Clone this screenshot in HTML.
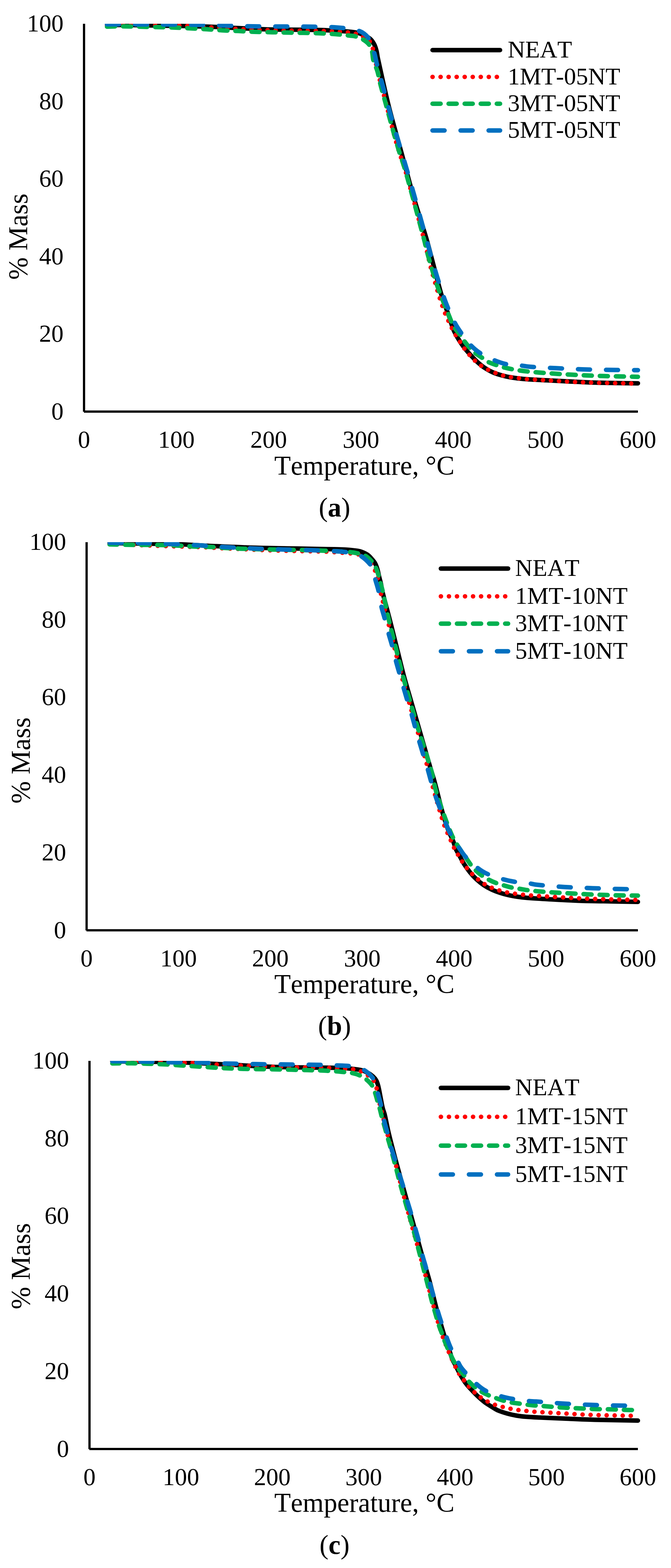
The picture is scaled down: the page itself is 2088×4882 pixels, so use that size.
<!DOCTYPE html>
<html><head><meta charset="utf-8"><title>TGA curves</title>
<style>
html,body{margin:0;padding:0;background:#fff;}
svg{display:block;}
text{font-family:'Liberation Serif', 'Times New Roman', serif;fill:#000;font-kerning:none;}
.tk{font-size:76px;}
.lg{font-size:75px;}
.at{font-size:84px;}
.cap{font-size:84px;}
</style></head>
<body>
<svg width="2088" height="4882" viewBox="0 0 2088 4882">
<rect width="2088" height="4882" fill="#fff"/>
<clipPath id="clipa"><rect x="258.0" y="74" width="1743.5" height="1207.5"/></clipPath>
<g clip-path="url(#clipa)" fill="none" stroke-width="14" stroke-linecap="round" stroke-linejoin="round">
<path d="M333 77.5C362 77.8 391 77.9 420 78.3C460 78.9 500 79.7 540 80.5C576 81.2 612 81.8 648 83C679.7 84.1 711.3 86 743 87.5C772 88.9 801 90.8 830 91.5C886.6 92.8 943.3 92.4 1000 93.6C1016.7 93.9 1033.3 95 1050 96C1063.3 96.8 1076.7 97.6 1090 98.9C1096.9 99.6 1103.9 100.3 1110.7 101.8C1117.3 103.3 1123.9 105.2 1130 108C1137.4 111.4 1145.1 115.2 1151.2 120.4C1156.6 125 1160.9 131.3 1164.3 137.6C1167.7 143.9 1169.7 151.1 1171.5 158C1173.4 165.2 1173.9 172.7 1175.5 180C1186.6 230.1 1197.1 280.3 1209.5 330C1222.1 380.3 1236.8 430 1250.5 480C1263.3 526.7 1275.5 573.5 1289 620C1300.7 660.2 1314.2 699.8 1326 740C1333.6 765.8 1340 792 1347 818C1355.5 850 1363.2 882.2 1372.5 914C1377.5 931.2 1384 948.1 1390 965C1392.8 973.1 1396.2 980.9 1399 989C1400.9 994.6 1402.1 1000.4 1404 1006C1406.7 1014.1 1409.1 1022.3 1412.7 1030C1417.3 1040 1422.8 1049.6 1428.6 1059C1434.1 1068 1440.3 1076.7 1446.7 1085C1452.4 1092.3 1458.6 1099.2 1464.9 1106C1471.5 1113.2 1478.1 1120.4 1485.3 1127C1492.5 1133.5 1499.9 1139.9 1508 1145.2C1516.6 1150.9 1525.8 1155.9 1535.2 1160C1543.9 1163.8 1553.2 1166.5 1562.4 1169C1571.3 1171.5 1580.4 1173.5 1589.6 1175C1603 1177.2 1616.5 1178.9 1630 1180C1653.3 1181.9 1676.7 1182.8 1700 1184C1743.3 1186.3 1786.7 1188.7 1830 1190.5C1853.3 1191.5 1876.7 1191.8 1900 1192.3C1928.3 1192.8 1956.7 1193.1 1985 1193.5" stroke="#000000"/>
<path d="M333 77.5C372 77.8 411 78.1 450 78.5C485.7 78.8 521.3 79 557 79.6C565.3 79.7 573.7 80.2 582 80.7C607.3 82.1 632.7 83.8 658 85.3C691 87.2 724 89.3 757 91C774 91.9 791 92.7 808 93.2C832.7 94 857.3 94.6 882 95C923.7 95.7 965.3 95.6 1007 96.5C1024 96.9 1041 98 1058 99C1066.2 99.5 1074.5 99.9 1082.6 100.9C1091.1 102 1099.8 103 1108 105.4C1115.5 107.6 1123 110.6 1129.8 114.5C1137.5 118.8 1146.1 123.4 1151.5 130C1156.4 136.1 1158.3 144.8 1160.6 152.6C1163.2 161.5 1164 170.9 1166 180C1171.4 204.2 1176.7 228.5 1182.7 252.6C1186.7 268.7 1191.6 284.6 1195.8 300.7C1205.7 338.4 1214.9 376.3 1225 414C1230 432.8 1235.2 451.5 1241 470C1247.6 491.1 1255.9 511.7 1262 533C1281.9 602.7 1300.6 672.8 1319 743" stroke="#FF0000" stroke-dasharray="0.1 24.9" stroke-dashoffset="0.00"/>
<path d="M1319 743C1326.6 772.1 1332.6 801.6 1340 830.7C1344.1 846.6 1348.9 862.3 1353.5 878C1358.3 894.4 1362.8 910.8 1368 927C1373.1 942.8 1378.2 958.6 1384.4 974C1390.7 989.6 1398 1004.8 1405.3 1020C1408.9 1027.5 1413 1034.8 1417.2 1042C1421.5 1049.3 1426.2 1056.4 1430.8 1063.5C1435.3 1070.5 1439.5 1077.7 1444.4 1084.4C1449.4 1091.3 1454.7 1098 1460.3 1104.4C1465.7 1110.7 1471.3 1116.9 1477.3 1122.5C1483.4 1128.2 1489.8 1133.7 1496.6 1138.4C1503.4 1143.1 1510.8 1147.1 1518.2 1150.9C1525.6 1154.7 1533.2 1158 1540.9 1161C1548.7 1164 1556.6 1166.8 1564.7 1169C1572.7 1171.2 1581 1172.8 1589.2 1174.2C1597.6 1175.6 1606.1 1176.5 1614.6 1177.6C1622.5 1178.6 1630.4 1179.8 1638.4 1180.4C1658.9 1181.9 1679.5 1182.8 1700 1184C1737.9 1186.2 1775.7 1189 1813.6 1190.4C1863.4 1192.3 1913.2 1192.9 1963 1194C1970.3 1194.2 1977.7 1194.2 1985 1194.3" stroke="#FF0000" stroke-dasharray="0.1 24.9" stroke-dashoffset="1457.69"/>
<path d="M333 83C348.7 82.7 364.3 81.9 380 82C403.3 82.1 426.7 82.9 450 83.5C482 84.3 514 84.8 546 86C578.3 87.3 610.7 89.1 643 91C659.3 91.9 675.7 93.5 692 94.4C708.7 95.3 725.3 95.8 742 96.6C758 97.4 774 98.5 790 99C826.7 100.1 863.3 100.7 900 101.5C930.7 102.2 961.3 102.5 992 103.5C1009 104.1 1026 105 1043 106.3C1059.4 107.6 1075.7 109.5 1092 111.2C1096 111.6 1100.2 111.6 1104 112.7C1111.8 115 1120 117.4 1127 121.4C1134.5 125.7 1142.4 131 1147.7 137.7C1152.5 143.7 1155.3 151.9 1157.5 159.5C1160.1 168.6 1159.4 178.6 1161.9 187.8C1165.1 199.4 1171.1 210.2 1174.5 221.7C1178.3 234.8 1180.3 248.4 1183.6 261.7C1187.4 276.9 1191.9 291.9 1196 307C1205.8 342.7 1215.3 378.4 1225.3 414C1230.5 432.7 1235.9 451.4 1241.6 470C1248 491 1255.8 511.5 1261.8 532.6C1281.6 602.5 1300.2 672.8 1319 743C1323.9 761.3 1327.5 779.8 1332.7 798C1341.7 829.7 1350.8 861.4 1361.7 892.5C1372.6 923.7 1385.5 954.3 1398 985C1402.5 996.2 1406.6 1007.7 1412.7 1018C1418.3 1027.4 1426.5 1035.1 1433 1044C1436.7 1049.1 1439.5 1054.9 1443.3 1060C1449 1067.8 1455.1 1075.5 1461.5 1082.8C1466.1 1088 1470.8 1093.2 1476.2 1097.5C1484 1103.8 1492.9 1108.8 1501.2 1114.6C1506.5 1118.3 1511.2 1123.1 1517 1126C1526.3 1130.7 1536.6 1133.7 1546.5 1137.2C1552.5 1139.3 1558.5 1141.4 1564.7 1143C1574.4 1145.5 1584.2 1147.7 1594 1149.7C1600.5 1151 1607 1152 1613.5 1153C1622.1 1154.3 1630.8 1155.5 1639.5 1156.4C1652.3 1157.8 1665.2 1159 1678 1160C1694.7 1161.3 1711.3 1162.4 1728 1163.5C1744.7 1164.6 1761.3 1165.7 1778 1166.6C1794.3 1167.5 1810.7 1168.3 1827 1169C1844 1169.7 1861 1170.3 1878 1170.8C1894.7 1171.3 1911.3 1171.6 1928 1172C1947 1172.4 1966 1172.8 1985 1173.2" stroke="#00B050" stroke-dasharray="25 25"/>
<path d="M333 75.5C422 76 511 76 600 77C633.3 77.4 666.7 78.6 700 79.5C723.3 80.2 746.7 81.4 770 81.8C805.3 82.4 840.7 82.3 876 82.5C905 82.7 934 82.5 963 83C992 83.6 1021.1 83.3 1050 85.8C1072.5 87.7 1096.5 88.9 1117.2 96.3C1129.5 100.7 1141.5 110.7 1148.8 121.4C1157.4 134 1160.5 150.9 1165.1 166C1168.5 177 1169.9 188.6 1172.8 199.8C1178.5 221.9 1184.8 243.9 1190.8 266C1198.7 295.3 1206.2 324.8 1214.4 354C1222.3 382 1230.8 409.8 1239 437.7C1247.3 465.7 1255.8 493.7 1264 521.7C1272.1 549.4 1280.1 577.2 1288 605C1296 633.5 1303.8 662 1311.7 690.5" stroke="#0070C0" stroke-dasharray="37.2 50.1" stroke-dashoffset="0.00"/>
<path d="M1311.7 690.5C1317.7 712.3 1323.7 734.1 1329.8 755.8C1339.4 789.9 1348.6 824.1 1359 858C1367.6 886 1376.5 914.1 1387 941.5C1395.2 962.9 1404.7 984 1415 1004.5C1420.4 1015.2 1427.1 1025.2 1434 1035C1443.7 1048.7 1453.4 1062.8 1464.9 1074.9C1474.3 1084.8 1485.1 1093.7 1496.6 1101C1509.3 1109.2 1523.5 1115.6 1537.5 1121.4C1549.9 1126.5 1562.9 1131.2 1576 1133.8C1591.2 1136.8 1607 1136.7 1622.5 1138.4C1631 1139.3 1639.5 1141.2 1648 1141.8C1675.3 1143.8 1702.7 1144.9 1730 1146.3C1757.2 1147.7 1784.3 1149.1 1811.5 1150C1842.3 1151 1873.2 1151.4 1904 1151.8C1931 1152.2 1958 1152.3 1985 1152.5" stroke="#0070C0" stroke-dasharray="37.2 50.1" stroke-dashoffset="1414.21"/>
</g>
<rect x="258.0" y="74" width="7" height="1207.8" fill="#000"/>
<rect x="261.0" y="1278.0" width="1724.0" height="7" fill="#000"/>
<text x="197.8" y="1305.5" class="tk" text-anchor="end">0</text>
<text x="197.8" y="1064" class="tk" text-anchor="end">20</text>
<text x="197.8" y="822.5" class="tk" text-anchor="end">40</text>
<text x="197.8" y="581" class="tk" text-anchor="end">60</text>
<text x="197.8" y="339.5" class="tk" text-anchor="end">80</text>
<text x="197.8" y="98" class="tk" text-anchor="end">100</text>
<text x="261.5" y="1394" class="tk" text-anchor="middle">0</text>
<text x="548.8" y="1394" class="tk" text-anchor="middle">100</text>
<text x="836" y="1394" class="tk" text-anchor="middle">200</text>
<text x="1123.2" y="1394" class="tk" text-anchor="middle">300</text>
<text x="1410.5" y="1394" class="tk" text-anchor="middle">400</text>
<text x="1697.8" y="1394" class="tk" text-anchor="middle">500</text>
<text x="1985" y="1394" class="tk" text-anchor="middle">600</text>
<text class="at" transform="translate(84.9 871) rotate(-90)" x="0" y="0">% Mass</text>
<text class="at" x="853.5" y="1478">Temperature, °C</text>
<line x1="1346" y1="155.9" x2="1556" y2="155.9" stroke="#000000" stroke-width="14" stroke-linecap="round"/>
<text class="lg" x="1580" y="178.9">NEAT</text>
<line x1="1346" y1="239.5" x2="1556" y2="239.5" stroke="#FF0000" stroke-width="14" stroke-linecap="round" stroke-dasharray="0.1 24.9"/>
<text class="lg" x="1580" y="262.5">1MT-05NT</text>
<line x1="1346" y1="322.9" x2="1556" y2="322.9" stroke="#00B050" stroke-width="14" stroke-linecap="round" stroke-dasharray="25 25"/>
<text class="lg" x="1580" y="345.9">3MT-05NT</text>
<line x1="1346" y1="406.3" x2="1556" y2="406.3" stroke="#0070C0" stroke-width="14" stroke-linecap="round" stroke-dasharray="37.2 50.1"/>
<text class="lg" x="1580" y="429.3">5MT-05NT</text>
<text class="cap" x="1041" y="1608" text-anchor="middle">(<tspan font-weight="bold">a</tspan>)</text>
<clipPath id="clipb"><rect x="266.0" y="1688" width="1735.5" height="1208.5"/></clipPath>
<g clip-path="url(#clipb)" fill="none" stroke-width="14" stroke-linecap="round" stroke-linejoin="round">
<path d="M341 1691C377.3 1691.5 413.7 1691.9 450 1692.5C486.7 1693.1 523.4 1693.4 560 1694.7C597.7 1696.1 635.3 1698.9 673 1700.6C715.3 1702.5 757.7 1704.4 800 1705.6C840 1706.8 880 1707.1 920 1707.8C960 1708.6 1000 1709.2 1040 1710.1C1052.1 1710.4 1064.2 1710.4 1076.3 1711.2C1088.4 1712 1100.6 1713.1 1112.6 1715C1117.8 1715.8 1123.1 1717.3 1128 1719.3C1133.7 1721.6 1139.5 1724.4 1144.5 1728C1149.4 1731.6 1153.5 1736.4 1157.5 1741C1161 1744.9 1164.6 1748.9 1167 1753.5C1170.3 1759.6 1172.6 1766.3 1174.6 1773C1176.9 1780.7 1178.1 1788.7 1180 1796.5C1181.7 1803.7 1183.9 1810.8 1185.5 1818C1187.1 1825.3 1187.7 1832.8 1189.5 1840C1196.9 1870.1 1205.3 1900 1213 1930C1221.5 1963.3 1229.7 1996.7 1238 2030C1243.8 2053.3 1249.3 2076.8 1255.5 2100C1262.3 2125.5 1269.9 2150.8 1277.2 2176.2C1286.2 2207.7 1295.4 2239.1 1304.5 2270.6C1316 2310.4 1327.4 2350.2 1339 2390C1343 2403.6 1347.7 2417.1 1351.4 2430.8C1360.3 2463.4 1367.6 2496.3 1376.8 2528.8C1382.2 2547.7 1388.2 2566.6 1395 2585C1399.1 2596 1405.1 2606.3 1409.5 2617.2C1413.1 2626.1 1415.2 2635.7 1419 2644.5C1421.7 2650.8 1425.8 2656.6 1429.1 2662.6C1434.3 2672.1 1439 2681.9 1444.7 2691C1450.3 2699.8 1456.4 2708.4 1463 2716.5C1469 2723.9 1475.6 2731.1 1482.6 2737.6C1489.6 2744.1 1497.1 2750.2 1505 2755.6C1512.9 2760.9 1521.4 2765.6 1530 2769.7C1538.2 2773.6 1546.9 2776.7 1555.5 2779.6C1563.9 2782.4 1572.5 2784.7 1581.1 2786.7C1590.6 2788.9 1600.3 2790.6 1610 2792C1620 2793.5 1630 2794.7 1640 2795.5C1666.6 2797.6 1693.3 2799 1720 2800.5C1746.7 2802 1773.3 2803.5 1800 2804.4C1833.3 2805.5 1866.7 2805.9 1900 2806.5C1928.3 2807.1 1956.7 2807.5 1985 2808" stroke="#000000"/>
<path d="M341 1693C377.3 1694.7 413.7 1696.5 450 1698C480 1699.2 510 1700 540 1701C555.7 1701.5 571.3 1702 587 1702.5C604 1703 621 1703.3 638 1704C654.7 1704.7 671.3 1706.1 688 1706.9C704.7 1707.7 721.3 1708.3 738 1709C754.7 1709.8 771.3 1710.7 788 1711.4C813 1712.4 838 1713.4 863 1714.2C879.7 1714.7 896.3 1715.1 913 1715.5C946.3 1716.3 979.7 1716.4 1013 1717.6C1029.6 1718.2 1046.1 1719.8 1062.7 1720.9C1070.9 1721.5 1079 1722 1087.2 1722.7C1095.7 1723.5 1104.4 1723.3 1112.6 1725.4C1120.4 1727.4 1128.4 1730.5 1135 1735C1141.5 1739.4 1147 1745.8 1152 1752C1157.1 1758.3 1161.5 1765.4 1165.2 1772.6C1168.9 1779.8 1172.1 1787.5 1174.3 1795.3C1177.4 1806.6 1178.3 1818.5 1181 1830C1188.9 1863.4 1197.7 1896.7 1206 1930C1214.3 1963.3 1222.7 1996.7 1231 2030C1236.8 2053.3 1242.3 2076.8 1248.5 2100C1255.3 2125.4 1262.7 2150.7 1270 2176C1279 2207.4 1288.6 2238.6 1297.5 2270" stroke="#FF0000" stroke-dasharray="0.1 24.9" stroke-dashoffset="0.00"/>
<path d="M1297.5 2270C1308.9 2309.9 1320 2349.9 1331 2390C1336.2 2408.9 1340.7 2428.1 1346 2447C1353.1 2472.5 1360.4 2498 1368 2523.4C1372.6 2538.9 1376.9 2554.6 1382.6 2569.7C1388.5 2585.5 1396 2600.8 1402.7 2616.3C1406 2623.9 1409 2631.6 1412.7 2639C1416.4 2646.5 1420.8 2653.6 1425 2660.8C1429.3 2668.1 1433.4 2675.5 1438.1 2682.6C1442.6 2689.4 1447.3 2696.1 1452.4 2702.4C1457.7 2708.9 1463.3 2715.2 1469.2 2721.2C1475 2727.1 1480.9 2732.8 1487.3 2738C1493.8 2743.3 1500.6 2748.4 1507.8 2752.8C1514.8 2757.1 1522.3 2760.7 1529.8 2763.9C1537.5 2767.2 1545.6 2769.8 1553.6 2772.3C1561.5 2774.7 1569.5 2776.9 1577.6 2778.6C1585.7 2780.3 1593.9 2781.3 1602.1 2782.5C1610.3 2783.7 1618.6 2784.7 1626.9 2785.6C1635.2 2786.5 1643.5 2787.4 1651.8 2788C1681.2 2790.1 1710.6 2791.8 1740 2793.5C1768.7 2795.1 1797.3 2796.8 1826 2798C1850.7 2799 1875.3 2799.6 1900 2800.2C1928.3 2800.9 1956.7 2801.4 1985 2802" stroke="#FF0000" stroke-dasharray="0.1 24.9" stroke-dashoffset="1362.67"/>
<path d="M341 1695C361 1695.4 381 1696 401 1696.3C434.3 1696.7 467.7 1696.4 501 1697C522.3 1697.4 543.7 1698.3 565 1699.3C577 1699.8 589 1701 601 1701.5C617.7 1702.2 634.3 1701.9 651 1702.7C667.3 1703.4 683.7 1705.1 700 1706C716.7 1707 733.3 1707.9 750 1708.4C791.7 1709.7 833.3 1710.6 875 1711.5C908.3 1712.2 941.7 1712.5 975 1713.4C996.7 1714 1018.3 1714.9 1040 1716C1056.3 1716.8 1072.7 1717.5 1089 1719C1096.9 1719.7 1104.9 1720.9 1112.6 1722.7C1120.6 1724.6 1129.2 1726.1 1136.2 1730C1143.7 1734.2 1150.4 1740.7 1156.2 1747.2C1161.3 1752.8 1165.6 1759.4 1168.9 1766.2C1172.8 1774.2 1175.4 1783 1178 1791.6C1180.2 1798.7 1181.5 1806.2 1183.4 1813.4C1185.7 1822.3 1188.6 1831 1190.6 1840C1197.4 1869.9 1203 1900.1 1210 1930C1217.8 1963.5 1226.7 1996.7 1235 2030C1240.8 2053.3 1246.3 2076.8 1252.5 2100C1259.3 2125.4 1266.7 2150.7 1274 2176C1283 2207.4 1292 2238.8 1301.5 2270" stroke="#00B050" stroke-dasharray="25 25" stroke-dashoffset="1.50"/>
<path d="M1301.5 2270C1314.6 2312.8 1329.5 2355 1341.8 2398C1347.6 2418.4 1350.5 2439.5 1356 2460C1360.6 2476.9 1366.4 2493.4 1372 2510C1377.1 2525.1 1382.4 2540.1 1388 2555C1393.7 2570.1 1399.4 2585.3 1406 2600C1410.3 2609.7 1415.3 2619.1 1420.9 2628.1C1429.7 2642.3 1439.8 2655.7 1449.3 2669.5C1454.3 2676.9 1459 2684.5 1464.4 2691.6C1469.4 2698.1 1474.6 2704.6 1480.5 2710.3C1486.4 2716.1 1493 2721.4 1499.8 2726.2C1507 2731.3 1514.7 2735.7 1522.5 2739.8C1529.1 2743.3 1535.9 2746.3 1542.9 2748.9C1551.1 2752 1559.5 2754.3 1567.9 2756.8C1576.2 2759.2 1584.4 2761.8 1592.8 2763.6C1601 2765.4 1609.5 2766.1 1617.8 2767.5C1625.7 2768.8 1633.6 2770.6 1641.6 2771.6C1653.7 2773.2 1665.8 2774.4 1678 2775.4C1694.6 2776.8 1711.3 2777.9 1728 2779C1744.7 2780 1761.3 2780.8 1778 2781.7C1794.7 2782.6 1811.3 2783.6 1828 2784.4C1844.7 2785.2 1861.3 2785.7 1878 2786.3C1894.7 2786.8 1911.3 2787.3 1928 2787.7C1947 2788.1 1966 2788.3 1985 2788.6" stroke="#00B050" stroke-dasharray="25 25" stroke-dashoffset="1369.91"/>
<path d="M341.5 1690C376.7 1690.2 411.8 1690.1 447 1690.7C476 1691.2 505 1692.2 534 1693.4C563.3 1694.6 592.7 1696.3 622 1698C651 1699.7 680 1702.2 709 1703.8C742.6 1705.7 776.3 1707.2 810 1708.6C835 1709.6 860 1710.2 885 1710.9C913.7 1711.7 942.3 1712.1 971 1713.1C995.8 1713.9 1020.6 1714.9 1045.4 1716.3C1055.7 1716.9 1066.1 1717.6 1076.3 1719C1084.3 1720 1092.3 1721.4 1100 1723.5C1108.6 1725.9 1118 1727.8 1125.3 1732.6C1135.5 1739.3 1144.8 1748.5 1152.5 1758C1157.1 1763.6 1159.7 1771 1162 1778C1164.8 1786.5 1165.8 1795.6 1168 1804.3C1171.1 1816.3 1175.3 1828 1178 1840C1181.7 1856.5 1183.5 1873.5 1187.2 1890C1189.9 1902.2 1194 1914.1 1197.2 1926.2C1201.6 1942.5 1205.6 1958.9 1210 1975.2C1213.2 1986.7 1216.9 1998.1 1220 2009.7C1224.4 2026.3 1228.2 2043 1232.6 2059.6C1235.7 2071.5 1239.2 2083.2 1242.6 2095C1247.1 2110.9 1251.7 2126.7 1256.3 2142.6C1259.9 2155 1263.5 2167.5 1267.2 2179.9C1271.9 2195.6 1277.1 2211.2 1281.7 2227C1285.2 2239 1288.3 2251.2 1291.7 2263.3C1296.2 2279.1 1300.7 2294.8 1305.3 2310.5" stroke="#0070C0" stroke-dasharray="37.2 50.1" stroke-dashoffset="0.00"/>
<path d="M1305.3 2310.5C1308.9 2322.6 1312.5 2334.7 1316.2 2346.8C1321.1 2362.7 1326.2 2378.5 1330.9 2394.5C1334.4 2406.5 1337.4 2418.7 1340.9 2430.8C1345.6 2446.9 1350.2 2463 1355.4 2478.9C1359.3 2490.8 1363.7 2502.6 1368.1 2514.3C1374 2530.1 1379.8 2545.9 1386.2 2561.5C1390.7 2572.5 1395.1 2583.7 1400.7 2594.2C1408.4 2608.6 1417.3 2622.6 1426.3 2636.3C1433.4 2647.2 1440.3 2658.4 1449 2668C1460.3 2680.5 1472.9 2692.1 1486.2 2702.4C1495.9 2710 1506.7 2716.7 1518 2721.7C1533.2 2728.4 1549.5 2733 1565.6 2737.6C1577.5 2741 1589.7 2743.6 1601.9 2745.5C1617.8 2748 1634 2748.9 1650 2751C1656.4 2751.9 1662.6 2753.9 1669 2754.5C1697.9 2757.4 1727 2759.9 1756 2761.7C1785.2 2763.5 1814.4 2764.3 1843.6 2765.4C1872.9 2766.5 1902.3 2767.4 1931.6 2768.1C1949.4 2768.6 1967.2 2768.7 1985 2769" stroke="#0070C0" stroke-dasharray="37.2 50.1" stroke-dashoffset="1394.16"/>
</g>
<rect x="266.0" y="1688" width="7" height="1208.8" fill="#000"/>
<rect x="269.0" y="2893.0" width="1716.0" height="7" fill="#000"/>
<text x="205.8" y="2920.5" class="tk" text-anchor="end">0</text>
<text x="205.8" y="2678.8" class="tk" text-anchor="end">20</text>
<text x="205.8" y="2437.1" class="tk" text-anchor="end">40</text>
<text x="205.8" y="2195.4" class="tk" text-anchor="end">60</text>
<text x="205.8" y="1953.7" class="tk" text-anchor="end">80</text>
<text x="205.8" y="1712" class="tk" text-anchor="end">100</text>
<text x="269.5" y="3009" class="tk" text-anchor="middle">0</text>
<text x="555.4" y="3009" class="tk" text-anchor="middle">100</text>
<text x="841.3" y="3009" class="tk" text-anchor="middle">200</text>
<text x="1127.2" y="3009" class="tk" text-anchor="middle">300</text>
<text x="1413.2" y="3009" class="tk" text-anchor="middle">400</text>
<text x="1699.1" y="3009" class="tk" text-anchor="middle">500</text>
<text x="1985" y="3009" class="tk" text-anchor="middle">600</text>
<text class="at" transform="translate(92.8 2502) rotate(-90)" x="0" y="0">% Mass</text>
<text class="at" x="853.5" y="3092">Temperature, °C</text>
<line x1="1372" y1="1770.3" x2="1581" y2="1770.3" stroke="#000000" stroke-width="14" stroke-linecap="round"/>
<text class="lg" x="1603" y="1793.3">NEAT</text>
<line x1="1372" y1="1856.8" x2="1581" y2="1856.8" stroke="#FF0000" stroke-width="14" stroke-linecap="round" stroke-dasharray="0.1 24.9"/>
<text class="lg" x="1603" y="1879.8">1MT-10NT</text>
<line x1="1372" y1="1941.8" x2="1581" y2="1941.8" stroke="#00B050" stroke-width="14" stroke-linecap="round" stroke-dasharray="25 25"/>
<text class="lg" x="1603" y="1964.8">3MT-10NT</text>
<line x1="1372" y1="2027.8" x2="1581" y2="2027.8" stroke="#0070C0" stroke-width="14" stroke-linecap="round" stroke-dasharray="37.2 50.1"/>
<text class="lg" x="1603" y="2050.8">5MT-10NT</text>
<text class="cap" x="1041" y="3222.3" text-anchor="middle">(<tspan font-weight="bold">b</tspan>)</text>
<clipPath id="clipc"><rect x="275.0" y="3303" width="1726.5" height="1208.5"/></clipPath>
<g clip-path="url(#clipc)" fill="none" stroke-width="14" stroke-linecap="round" stroke-linejoin="round">
<path d="M349.6 3304.5C394.7 3305 439.9 3305.2 485 3306C517.7 3306.5 550.3 3307.2 583 3308.4C622 3309.9 661 3312 700 3314C743.3 3316.2 786.6 3319.3 830 3321C866.6 3322.5 903.3 3322.9 940 3323.5C975 3324.1 1010 3323.9 1045 3324.8C1060.3 3325.2 1075.6 3325.8 1090.8 3327.2C1102.6 3328.3 1114.6 3329.6 1126 3332.4C1132.6 3334 1139 3337.2 1145 3340.5C1150.7 3343.7 1156.2 3347.6 1161 3352C1164.9 3355.6 1168.4 3359.9 1171 3364.5C1173.5 3368.9 1174.9 3374.1 1176.4 3379C1177.9 3384.2 1178.9 3389.6 1180 3395C1181.6 3402.8 1183 3410.7 1184.5 3418.5C1186.6 3429 1188.3 3439.6 1190.8 3450C1192.5 3457 1195.5 3463.7 1197.2 3470.7C1201.9 3490.3 1205.2 3510.4 1210 3530C1218.1 3563.5 1227.1 3596.7 1236 3630C1243.2 3656.7 1250.8 3683.3 1258.2 3710C1269 3748.7 1279.8 3787.3 1290.5 3826C1298.4 3854.5 1306.1 3883 1314.2 3911.5C1321.6 3937.7 1329.9 3963.7 1337 3990C1344.2 4016.5 1349.9 4043.4 1357 4069.9C1364.7 4098.5 1372.8 4126.9 1381.5 4155.2C1387 4173 1393.5 4190.4 1399.5 4208C1402.3 4216.3 1404.6 4224.9 1408 4233C1410.5 4238.9 1414.1 4244.3 1417 4250C1420.1 4256 1422.9 4262.1 1426 4268C1429.5 4274.7 1433 4281.5 1437 4288C1441.4 4295.2 1445.8 4302.4 1451 4309C1456.7 4316.4 1463.3 4323.2 1469.7 4330C1475.9 4336.6 1482.2 4343.1 1488.8 4349.2C1495.4 4355.3 1502.2 4361.3 1509.4 4366.7C1516.5 4371.9 1524.1 4376.4 1531.6 4381C1537.3 4384.5 1542.9 4388.5 1549 4391.1C1558.4 4395.1 1568.3 4398.2 1578.1 4401C1587.6 4403.7 1597.4 4405.8 1607.1 4407.5C1616.7 4409.2 1626.5 4410.3 1636.2 4411.1C1650.7 4412.3 1665.2 4412.9 1679.7 4413.6C1703.1 4414.7 1726.6 4415.6 1750 4416.5C1783.3 4417.9 1816.7 4419.6 1850 4420.5C1895 4421.7 1940 4422.2 1985 4423" stroke="#000000"/>
<path d="M349.6 3305C370.1 3305 390.5 3304.9 411 3305C440.7 3305.2 470.3 3305.3 500 3306C524.5 3306.5 549.1 3307.9 573.6 3308.6C581.9 3308.9 590.3 3308.5 598.6 3309C623.5 3310.4 648.4 3312.8 673.4 3314.3C698.3 3315.7 723.3 3316.6 748.3 3317.7C756.6 3318.1 764.9 3318.5 773.2 3318.8C798.8 3319.8 824.4 3320.8 850 3321.5C880 3322.3 910 3322.9 940 3323.5C968.2 3324.1 996.4 3324.3 1024.6 3325C1032.7 3325.2 1040.9 3325.9 1049 3326.3C1057.5 3326.7 1066 3326.7 1074.5 3327.2C1082.3 3327.6 1090.3 3327.7 1098 3329C1106.3 3330.4 1114.8 3332.3 1122.6 3335.4C1129.9 3338.3 1137.1 3342.5 1143.4 3347.2C1150.4 3352.4 1157.5 3358.3 1162.5 3365.3C1166.9 3371.6 1169.6 3379.5 1171.6 3387.1C1175.4 3401.1 1176.6 3415.8 1180 3430C1188.2 3464.6 1197.2 3499 1206.3 3533.4C1214.8 3565.5 1224.1 3597.5 1232.6 3629.6C1241 3661.3 1248.6 3693.3 1257 3725C1265.6 3757.9 1274.6 3790.6 1283.6 3823.4C1288 3839.5 1292.8 3855.4 1297.2 3871.5" stroke="#FF0000" stroke-dasharray="0.1 24.9" stroke-dashoffset="0.00"/>
<path d="M1297.2 3871.5C1306.1 3903.8 1314.9 3936.2 1323.5 3968.6C1332.1 4001.1 1340.3 4033.7 1349 4066.2C1353.4 4082.6 1357.7 4099 1362.6 4115.2C1367.4 4131 1372.4 4146.8 1378 4162.4C1383.6 4178 1389.8 4193.4 1396.2 4208.7C1402.7 4224.1 1409.6 4239.4 1416.8 4254.5C1420.3 4261.8 1423.8 4269.2 1428.1 4276.1C1432.5 4283.2 1437.8 4289.8 1442.9 4296.5C1448.1 4303.4 1453.2 4310.4 1458.8 4316.9C1464.1 4323 1469.8 4328.9 1475.8 4334.4C1481.9 4340.1 1488.3 4345.7 1495.1 4350.5C1501.9 4355.3 1509.2 4359.6 1516.6 4363.4C1524.1 4367.3 1531.9 4370.7 1539.8 4373.6C1547.6 4376.4 1555.8 4378.3 1563.8 4380.4C1571.9 4382.5 1580.1 4384.4 1588.3 4386.1C1596.3 4387.7 1604.5 4389.1 1612.6 4390.2C1620.8 4391.3 1629.1 4392 1637.3 4392.9C1645.8 4393.8 1654.2 4394.8 1662.7 4395.4C1691.8 4397.4 1720.9 4398.9 1750 4400.5C1779 4402.1 1808 4404.2 1837 4405.2C1878.8 4406.7 1920.6 4407.1 1962.4 4408C1969.9 4408.2 1977.5 4408.3 1985 4408.5" stroke="#FF0000" stroke-dasharray="0.1 24.9" stroke-dashoffset="1347.23"/>
<path d="M349.6 3311C369.4 3310.8 389.2 3310.3 409 3310.5C425.7 3310.7 442.3 3311.5 459 3312C475.7 3312.5 492.3 3312.9 509 3313.7C526 3314.5 543 3315.9 560 3317C576 3318 592 3319 608 3320C624.7 3321.1 641.3 3322.3 658 3323.4C674.7 3324.4 691.3 3325.5 708 3326.3C724.7 3327 741.3 3327.5 758 3327.9C772 3328.3 786 3328.5 800 3328.7C819.3 3329 838.7 3329.2 858 3329.5C874.7 3329.8 891.3 3330.2 908 3330.6C924.7 3331 941.3 3331.4 958 3331.8C974.7 3332.3 991.3 3332.6 1008 3333.3C1020.3 3333.8 1032.7 3334.7 1045 3335.5C1049.8 3335.8 1054.7 3336.2 1059.5 3336.7C1071.5 3338 1083.6 3338.5 1095.4 3340.8C1103.5 3342.3 1111.5 3344.7 1119 3348.1C1126.3 3351.4 1133.6 3355.7 1139.8 3360.8C1146.6 3366.3 1153.2 3372.7 1158 3379.9C1162.3 3386.3 1164.4 3394.2 1167 3401.6C1169.9 3409.9 1171.8 3418.6 1174.3 3427C1176.7 3435.3 1179.5 3443.5 1181.8 3451.8C1183.8 3459 1185.2 3466.4 1187.2 3473.6C1194 3498.4 1201.1 3523.2 1208.1 3548C1210.2 3555.2 1212.4 3562.4 1214.4 3569.7C1221.2 3594.5 1227.8 3619.3 1234.4 3644.2C1236.3 3651.4 1238 3658.8 1239.9 3666C1243.8 3680.7 1247.8 3695.4 1252 3710C1259.4 3736 1266.9 3762 1274.5 3788C1276.8 3795.9 1279.5 3803.7 1281.7 3811.6C1290.7 3844.8 1299.3 3878.2 1308 3911.5" stroke="#00B050" stroke-dasharray="25 25" stroke-dashoffset="3.00"/>
<path d="M1308 3911.5C1318.4 3951.5 1328.7 3991.6 1339 4031.7C1340.9 4039 1342.5 4046.3 1344.5 4053.5C1346.8 4062 1349.4 4070.4 1351.8 4078.9C1353.9 4086.2 1356 4093.4 1358.1 4100.7C1360.8 4109.8 1363.3 4118.9 1366.3 4127.9C1368.7 4135.3 1371.7 4142.4 1374.4 4149.7C1377.5 4158.1 1380.3 4166.7 1383.5 4175.1C1386.3 4182.4 1389.4 4189.7 1392.6 4196.9C1396.1 4204.8 1399.7 4212.7 1403.5 4220.5C1407 4227.8 1410.4 4235.3 1414.4 4242.3C1418.6 4249.6 1423.1 4256.9 1428.1 4263.6C1432.9 4270 1438.9 4275.6 1444 4281.8C1449.5 4288.5 1454.1 4295.8 1459.9 4302.2C1465.5 4308.3 1471.6 4314.1 1478 4319.2C1484.8 4324.6 1492.1 4329.5 1499.6 4333.9C1506.1 4337.8 1513 4341.1 1520 4344.1C1527.8 4347.5 1535.8 4350.3 1543.8 4353.2C1551.7 4356 1559.6 4358.9 1567.7 4361.2C1575.9 4363.5 1584.2 4365.3 1592.6 4366.8C1600.5 4368.3 1608.5 4369.1 1616.4 4370.2C1624.7 4371.4 1633.1 4372.6 1641.4 4373.6C1647.3 4374.3 1653.1 4374.9 1659 4375.4C1674.1 4376.7 1689.3 4377.9 1704.4 4379C1721.1 4380.3 1737.7 4381.6 1754.4 4382.6C1771 4383.6 1787.7 4384.2 1804.3 4385C1820.7 4385.8 1837.2 4386.7 1853.6 4387.2C1870.2 4387.7 1886.9 4387.6 1903.5 4388.1C1920.1 4388.6 1936.8 4389.5 1953.4 4390C1963.9 4390.3 1974.5 4390.3 1985 4390.5" stroke="#00B050" stroke-dasharray="25 25" stroke-dashoffset="1376.55"/>
<path d="M349.6 3304C382.1 3304.3 414.5 3304.4 447 3305C476 3305.6 505 3306.9 534 3307.5C557.3 3307.9 580.7 3307.6 604 3308C620.7 3308.3 637.3 3308.9 654 3309.5C667 3309.9 680 3310.6 693 3311C709 3311.5 725 3311.7 741 3312C753.7 3312.3 766.3 3312.4 779 3312.7C791 3313 803 3313.4 815 3313.6C840.7 3314 866.3 3314 892 3314.3C921 3314.6 950 3314.7 979 3315.2C1002.1 3315.6 1025.1 3316.4 1048.2 3317.2C1060.6 3317.6 1073.1 3317.6 1085.4 3319C1093.7 3319.9 1102 3321.8 1110 3324C1118.3 3326.3 1127.3 3328.1 1134.4 3332.7C1143.9 3338.9 1153 3347.3 1159.8 3356.3C1164.4 3362.4 1166 3370.6 1168.5 3378C1171.5 3386.9 1173.6 3396.2 1176.1 3405.3C1179.2 3416.7 1182.6 3428.1 1185.2 3439.7C1189 3456.3 1191.5 3473.3 1195.4 3489.9C1198.3 3502.1 1202.2 3514.1 1205.4 3526.2C1209.7 3542.5 1213.4 3559 1218 3575.2C1221.3 3586.8 1225.5 3598.2 1229 3609.7C1234 3626 1238.5 3642.4 1243.5 3658.7C1247 3670.2 1251 3681.6 1254.4 3693.2C1259.2 3709.3 1263.4 3725.6 1268.1 3741.8C1271.6 3753.9 1275.5 3765.9 1279 3778C1283.7 3794 1288.1 3810.1 1292.6 3826.2C1295.9 3838 1299.5 3849.7 1302.6 3861.5C1307 3878.1 1310.8 3894.9 1315.3 3911.5" stroke="#0070C0" stroke-dasharray="37.2 50.1" stroke-dashoffset="0.00"/>
<path d="M1315.3 3911.5C1318.4 3923.1 1322.2 3934.4 1325.3 3946C1329.8 3963 1333.6 3980.3 1338.1 3997.3C1341.2 4008.8 1344.8 4020.2 1348.1 4031.7C1352.7 4048 1356.9 4064.4 1361.7 4080.7C1365.1 4092.3 1368.7 4103.8 1372.6 4115.2C1378.1 4131.6 1383.9 4147.9 1389.9 4164.2C1393.9 4175.2 1397.7 4186.3 1402.6 4196.9C1407.1 4206.6 1413.1 4215.5 1418 4225C1423.1 4234.7 1427 4245.2 1432.7 4254.5C1436.8 4261.1 1442.1 4267 1447.4 4272.7C1458.8 4285.1 1470.1 4297.8 1482.6 4309C1491.6 4317.1 1501.3 4325.1 1512.1 4330.5C1527 4338 1543.6 4342.6 1559.7 4347.5C1571.2 4351 1583.1 4353.5 1594.9 4355.5C1611.8 4358.4 1628.9 4360.4 1645.9 4362.3C1653.2 4363.1 1660.6 4363.1 1668 4363.6C1695.9 4365.6 1723.7 4368.3 1751.6 4370C1780.4 4371.8 1809.2 4373.1 1838 4374.1C1867.3 4375.2 1896.7 4375.7 1926 4376.3C1945.7 4376.7 1965.3 4376.8 1985 4377" stroke="#0070C0" stroke-dasharray="37.2 50.1" stroke-dashoffset="1395.27"/>
</g>
<rect x="275.0" y="3303" width="7" height="1208.8" fill="#000"/>
<rect x="278.0" y="4508.0" width="1707.0" height="7" fill="#000"/>
<text x="214.8" y="4535.5" class="tk" text-anchor="end">0</text>
<text x="214.8" y="4293.8" class="tk" text-anchor="end">20</text>
<text x="214.8" y="4052.1" class="tk" text-anchor="end">40</text>
<text x="214.8" y="3810.4" class="tk" text-anchor="end">60</text>
<text x="214.8" y="3568.7" class="tk" text-anchor="end">80</text>
<text x="214.8" y="3327" class="tk" text-anchor="end">100</text>
<text x="278.5" y="4624" class="tk" text-anchor="middle">0</text>
<text x="562.9" y="4624" class="tk" text-anchor="middle">100</text>
<text x="847.3" y="4624" class="tk" text-anchor="middle">200</text>
<text x="1131.8" y="4624" class="tk" text-anchor="middle">300</text>
<text x="1416.2" y="4624" class="tk" text-anchor="middle">400</text>
<text x="1700.6" y="4624" class="tk" text-anchor="middle">500</text>
<text x="1985" y="4624" class="tk" text-anchor="middle">600</text>
<text class="at" transform="translate(92.8 4076.5) rotate(-90)" x="0" y="0">% Mass</text>
<text class="at" x="853.5" y="4706.8">Temperature, °C</text>
<line x1="1372" y1="3387.2" x2="1581" y2="3387.2" stroke="#000000" stroke-width="14" stroke-linecap="round"/>
<text class="lg" x="1603" y="3410.2">NEAT</text>
<line x1="1372" y1="3477.2" x2="1581" y2="3477.2" stroke="#FF0000" stroke-width="14" stroke-linecap="round" stroke-dasharray="0.1 24.9"/>
<text class="lg" x="1603" y="3500.2">1MT-15NT</text>
<line x1="1372" y1="3566.9" x2="1581" y2="3566.9" stroke="#00B050" stroke-width="14" stroke-linecap="round" stroke-dasharray="25 25"/>
<text class="lg" x="1603" y="3589.9">3MT-15NT</text>
<line x1="1372" y1="3656.7" x2="1581" y2="3656.7" stroke="#0070C0" stroke-width="14" stroke-linecap="round" stroke-dasharray="37.2 50.1"/>
<text class="lg" x="1603" y="3679.7">5MT-15NT</text>
<text class="cap" x="1041" y="4837.7" text-anchor="middle">(<tspan font-weight="bold">c</tspan>)</text>
</svg>
</body></html>
